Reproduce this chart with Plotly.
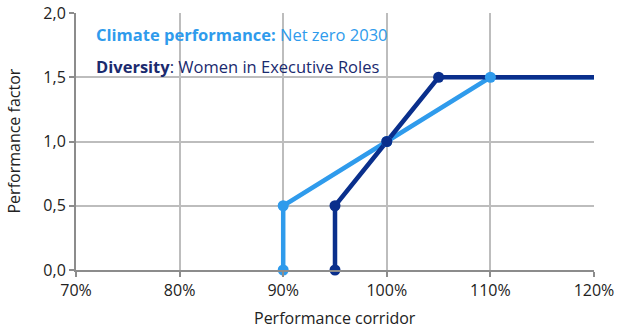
import plotly.graph_objects as go

# Data
climate_x = [0.90, 0.90, 1.00, 1.10, 1.20]
climate_y = [0.0, 0.5, 1.0, 1.5, 1.5]
diversity_x = [0.95, 0.95, 1.00, 1.05, 1.20]
diversity_y = [0.0, 0.5, 1.0, 1.5, 1.5]
x_ticks = [0.7, 0.8, 0.9, 1.0, 1.1, 1.2]
x_ticktext = ["70%", "80%", "90%", "100%", "110%", "120%"]
y_ticks = [0.0, 0.5, 1.0, 1.5, 2.0]
y_ticktext = ["0,0", "0,5", "1,0", "1,5", "2,0"]

LIGHT = "#2f9bec"
DARK = "#0a2f8c"

fig = go.Figure()
fig.add_trace(go.Scatter(x=climate_x, y=climate_y, mode="lines", cliponaxis=False,
                         line=dict(color=LIGHT, width=4.5), showlegend=False, hoverinfo="skip"))
fig.add_trace(go.Scatter(x=diversity_x, y=diversity_y, mode="lines", cliponaxis=False,
                         line=dict(color=DARK, width=4.5), showlegend=False, hoverinfo="skip"))
fig.add_trace(go.Scatter(x=climate_x[:-1], y=climate_y[:-1], mode="markers", cliponaxis=False,
                         marker=dict(color=LIGHT, size=11), showlegend=False))
fig.add_trace(go.Scatter(x=diversity_x[:-1], y=diversity_y[:-1], mode="markers", cliponaxis=False,
                         marker=dict(color=DARK, size=11), showlegend=False))

FONT = "Open Sans"
fig.add_annotation(x=0, xref="paper", xanchor="left", xshift=18, y=1.83, yref="y",
                   text="<b>Climate performance:</b> Net zero 2030", showarrow=False,
                   font=dict(family=FONT, size=16.5, color=LIGHT))
fig.add_annotation(x=0, xref="paper", xanchor="left", xshift=18, y=1.58, yref="y",
                   text="<b>Diversity</b>: Women in Executive Roles", showarrow=False,
                   font=dict(family=FONT, size=16.5, color="#1a2a6e"))
# Axis titles
fig.add_annotation(x=0, xref="paper", xanchor="center", xshift=-63, y=0.5, yref="paper",
                   yanchor="middle", text="Performance factor", textangle=-90, showarrow=False,
                   font=dict(family=FONT, size=16, color="#222222"))
fig.add_annotation(x=0.5, xref="paper", xanchor="center", y=0, yref="paper", yanchor="middle",
                   yshift=-48, text="Performance corridor", showarrow=False,
                   font=dict(family=FONT, size=16, color="#222222"))

fig.update_layout(
    width=617, height=328, autosize=False,
    margin=dict(l=76, r=23, t=13, b=58, pad=0),
    plot_bgcolor="white", paper_bgcolor="white",
    font=dict(family=FONT, size=16, color="#222222"),
)
fig.update_xaxes(range=[0.7, 1.2], tickvals=x_ticks, ticktext=x_ticktext,
                 showgrid=True, gridcolor="#bdbdbd", gridwidth=1.5,
                 showline=True, linecolor="#8c8c8c", linewidth=2,
                 ticks="outside", ticklen=5, tickcolor="#8c8c8c", tickwidth=1.5,
                 automargin=False, zeroline=False)
fig.update_yaxes(range=[0, 2.0], tickvals=y_ticks, ticktext=y_ticktext,
                 showgrid=True, gridcolor="#bdbdbd", gridwidth=1.5,
                 showline=True, linecolor="#8c8c8c", linewidth=2,
                 ticks="outside", ticklen=5, tickcolor="#8c8c8c", tickwidth=1.5,
                 automargin=False, zeroline=False)

fig.write_html("out.html")
